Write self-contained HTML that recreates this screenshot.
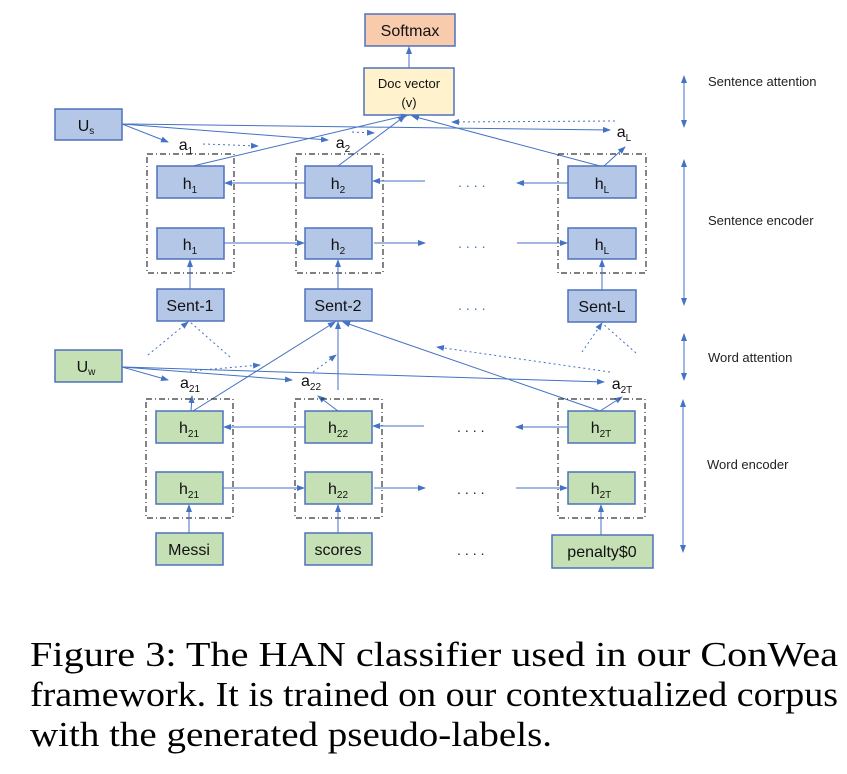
<!DOCTYPE html>
<html><head><meta charset="utf-8"><style>
body{margin:0;background:#fff}
svg{display:block}
.b{fill:#b4c7e7;stroke:#4f71be;stroke-width:1.5}
.g{fill:#c5e0b4;stroke:#4f71be;stroke-width:1.5}
.t{font-family:"Liberation Sans",sans-serif;font-size:16px;fill:#111;text-anchor:middle}
.s{font-size:10px}
.l{stroke:#4472c4;stroke-width:1;fill:none}
.d{stroke:#4472c4;stroke-width:1;fill:none;stroke-dasharray:2 3}
.db{fill:none;stroke:#333;stroke-width:1.2;stroke-dasharray:6 3 1 3}
.r{font-family:"Liberation Sans",sans-serif;font-size:13px;fill:#222}
.dot{font-family:"Liberation Sans",sans-serif;font-size:14px;fill:#4472c4;letter-spacing:4px}
.cap{font-family:"Liberation Serif","Times New Roman",serif;font-size:35px;fill:#000}
</style></head><body>
<svg width="847" height="774" viewBox="0 0 847 774">
<defs><marker id="a" markerWidth="8" markerHeight="8" refX="7" refY="4" orient="auto" markerUnits="userSpaceOnUse"><path d="M0,1 L8,4 L0,7z" fill="#4472c4"/></marker></defs>
<rect x="365" y="14" width="90" height="32" fill="#f8cbad" stroke="#4f71be" stroke-width="1.5"/>
<text class="t" x="410" y="36">Softmax</text>
<rect x="364" y="68" width="90" height="47" fill="#fff2cc" stroke="#4f71be" stroke-width="1.5"/>
<text class="t" x="409" y="88" style="font-size:13px">Doc vector</text>
<text class="t" x="409" y="107" style="font-size:13px">(v)</text>
<line class="l" x1="409" y1="68" x2="409" y2="47" marker-end="url(#a)"/>
<rect class="b" x="55" y="109" width="67" height="31"/>
<text class="t" x="86" y="131">U<tspan class="s" dy="3">s</tspan></text>
<line class="l" x1="122" y1="124" x2="168" y2="142" marker-end="url(#a)"/>
<line class="l" x1="122" y1="124" x2="328" y2="140" marker-end="url(#a)"/>
<line class="l" x1="122" y1="124" x2="610" y2="130" marker-end="url(#a)"/>
<text class="t" x="186" y="150">a<tspan class="s" dy="4">1</tspan></text>
<text class="t" x="343" y="148">a<tspan class="s" dy="4">2</tspan></text>
<text class="t" x="624" y="137">a<tspan class="s" dy="4">L</tspan></text>
<line class="d" x1="203" y1="144" x2="258" y2="146" marker-end="url(#a)"/>
<line class="d" x1="352" y1="132" x2="374" y2="133" marker-end="url(#a)"/>
<line class="d" x1="615" y1="121" x2="452" y2="122" marker-end="url(#a)"/>
<line class="l" x1="193" y1="166" x2="408" y2="115" marker-end="url(#a)"/>
<line class="l" x1="338" y1="166" x2="405" y2="116" marker-end="url(#a)"/>
<line class="l" x1="600" y1="166" x2="412" y2="116" marker-end="url(#a)"/>
<line class="l" x1="604" y1="166" x2="625" y2="147" marker-end="url(#a)"/>
<rect class="db" x="147" y="154" width="87" height="119"/>
<rect class="db" x="296" y="154" width="87" height="119"/>
<rect class="db" x="558" y="154" width="88" height="119"/>
<rect class="b" x="157" y="166" width="67" height="32"/><text class="t" x="190" y="189">h<tspan class="s" dy="4">1</tspan></text>
<rect class="b" x="157" y="228" width="67" height="31"/><text class="t" x="190" y="250">h<tspan class="s" dy="4">1</tspan></text>
<rect class="b" x="305" y="166" width="67" height="32"/><text class="t" x="338" y="189">h<tspan class="s" dy="4">2</tspan></text>
<rect class="b" x="305" y="228" width="67" height="31"/><text class="t" x="338" y="250">h<tspan class="s" dy="4">2</tspan></text>
<rect class="b" x="568" y="166" width="68" height="32"/><text class="t" x="602" y="189">h<tspan class="s" dy="4">L</tspan></text>
<rect class="b" x="568" y="228" width="68" height="31"/><text class="t" x="602" y="250">h<tspan class="s" dy="4">L</tspan></text>
<line class="l" x1="305" y1="183" x2="225" y2="183" marker-end="url(#a)"/>
<line class="l" x1="425" y1="181" x2="373" y2="181" marker-end="url(#a)"/>
<line class="l" x1="568" y1="183" x2="517" y2="183" marker-end="url(#a)"/>
<line class="l" x1="224" y1="243" x2="304" y2="243" marker-end="url(#a)"/>
<line class="l" x1="374" y1="243" x2="425" y2="243" marker-end="url(#a)"/>
<line class="l" x1="517" y1="243" x2="567" y2="243" marker-end="url(#a)"/>
<text class="dot" x="458" y="187">....</text>
<text class="dot" x="458" y="248">....</text>
<text class="dot" x="458" y="310">....</text>
<rect class="b" x="157" y="289" width="67" height="32"/><text class="t" x="190" y="311">Sent-1</text>
<rect class="b" x="305" y="289" width="67" height="32"/><text class="t" x="338" y="311">Sent-2</text>
<rect class="b" x="568" y="290" width="68" height="32"/><text class="t" x="602" y="312">Sent-L</text>
<line class="l" x1="190" y1="289" x2="190" y2="260" marker-end="url(#a)"/>
<line class="l" x1="338" y1="289" x2="338" y2="260" marker-end="url(#a)"/>
<line class="l" x1="602" y1="290" x2="602" y2="260" marker-end="url(#a)"/>
<line class="d" x1="148" y1="355" x2="188" y2="322" marker-end="url(#a)"/>
<line class="d" x1="230" y1="357" x2="190" y2="322"/>
<line class="d" x1="582" y1="352" x2="602" y2="323" marker-end="url(#a)"/>
<line class="d" x1="636" y1="353" x2="602" y2="323"/>
<rect class="g" x="55" y="350" width="67" height="32"/>
<text class="t" x="86" y="372">U<tspan class="s" dy="3">w</tspan></text>
<line class="l" x1="122" y1="367" x2="168" y2="380" marker-end="url(#a)"/>
<line class="l" x1="122" y1="367" x2="292" y2="380" marker-end="url(#a)"/>
<line class="l" x1="122" y1="367" x2="604" y2="382" marker-end="url(#a)"/>
<text class="t" x="190" y="388">a<tspan class="s" dy="4">21</tspan></text>
<text class="t" x="311" y="386">a<tspan class="s" dy="4">22</tspan></text>
<text class="t" x="622" y="389">a<tspan class="s" dy="4">2T</tspan></text>
<line class="d" x1="190" y1="371" x2="260" y2="365" marker-end="url(#a)"/>
<line class="d" x1="313" y1="372" x2="336" y2="355" marker-end="url(#a)"/>
<line class="d" x1="610" y1="372" x2="437" y2="347" marker-end="url(#a)"/>
<line class="l" x1="193" y1="411" x2="335" y2="322" marker-end="url(#a)"/>
<line class="l" x1="338" y1="390" x2="338" y2="322" marker-end="url(#a)"/>
<line class="l" x1="600" y1="411" x2="343" y2="322" marker-end="url(#a)"/>
<line class="l" x1="191" y1="411" x2="192" y2="396" marker-end="url(#a)"/>
<line class="l" x1="338" y1="411" x2="318" y2="396" marker-end="url(#a)"/>
<line class="l" x1="600" y1="411" x2="622" y2="397" marker-end="url(#a)"/>
<rect class="db" x="146" y="399" width="87" height="119"/>
<rect class="db" x="295" y="399" width="87" height="119"/>
<rect class="db" x="558" y="399" width="87" height="119"/>
<rect class="g" x="156" y="411" width="67" height="32"/><text class="t" x="189" y="433">h<tspan class="s" dy="4">21</tspan></text>
<rect class="g" x="156" y="472" width="67" height="32"/><text class="t" x="189" y="494">h<tspan class="s" dy="4">21</tspan></text>
<rect class="g" x="305" y="411" width="67" height="32"/><text class="t" x="338" y="433">h<tspan class="s" dy="4">22</tspan></text>
<rect class="g" x="305" y="472" width="67" height="32"/><text class="t" x="338" y="494">h<tspan class="s" dy="4">22</tspan></text>
<rect class="g" x="568" y="411" width="67" height="32"/><text class="t" x="601" y="433">h<tspan class="s" dy="4">2T</tspan></text>
<rect class="g" x="568" y="472" width="67" height="32"/><text class="t" x="601" y="494">h<tspan class="s" dy="4">2T</tspan></text>
<line class="l" x1="305" y1="427" x2="224" y2="427" marker-end="url(#a)"/>
<line class="l" x1="424" y1="426" x2="373" y2="426" marker-end="url(#a)"/>
<line class="l" x1="568" y1="427" x2="516" y2="427" marker-end="url(#a)"/>
<line class="l" x1="223" y1="488" x2="304" y2="488" marker-end="url(#a)"/>
<line class="l" x1="374" y1="488" x2="425" y2="488" marker-end="url(#a)"/>
<line class="l" x1="516" y1="488" x2="567" y2="488" marker-end="url(#a)"/>
<text class="dot" x="457" y="432" style="fill:#222">....</text>
<text class="dot" x="457" y="494" style="fill:#222">....</text>
<text class="dot" x="457" y="555" style="fill:#222">....</text>
<rect class="g" x="156" y="533" width="67" height="32"/><text class="t" x="189" y="555">Messi</text>
<rect class="g" x="305" y="533" width="67" height="32"/><text class="t" x="338" y="555">scores</text>
<rect class="g" x="552" y="535" width="101" height="33"/><text class="t" x="602" y="557">penalty$0</text>
<line class="l" x1="189" y1="533" x2="189" y2="505" marker-end="url(#a)"/>
<line class="l" x1="338" y1="533" x2="338" y2="505" marker-end="url(#a)"/>
<line class="l" x1="601" y1="535" x2="601" y2="505" marker-end="url(#a)"/>
<line class="l" x1="684" y1="101" x2="684" y2="76" marker-end="url(#a)"/>
<line class="l" x1="684" y1="101" x2="684" y2="127" marker-end="url(#a)"/>
<line class="l" x1="684" y1="230" x2="684" y2="160" marker-end="url(#a)"/>
<line class="l" x1="684" y1="230" x2="684" y2="305" marker-end="url(#a)"/>
<line class="l" x1="684" y1="357" x2="684" y2="334" marker-end="url(#a)"/>
<line class="l" x1="684" y1="357" x2="684" y2="380" marker-end="url(#a)"/>
<line class="l" x1="683" y1="475" x2="683" y2="400" marker-end="url(#a)"/>
<line class="l" x1="683" y1="475" x2="683" y2="552" marker-end="url(#a)"/>
<text class="r" x="708" y="86">Sentence attention</text>
<text class="r" x="708" y="225">Sentence encoder</text>
<text class="r" x="708" y="362">Word attention</text>
<text class="r" x="707" y="469">Word encoder</text>
<text class="cap" x="30" y="666" textLength="808" lengthAdjust="spacingAndGlyphs">Figure 3:  The HAN classifier used in our ConWea</text>
<text class="cap" x="30" y="706" textLength="808" lengthAdjust="spacingAndGlyphs">framework. It is trained on our contextualized corpus</text>
<text class="cap" x="30" y="746" textLength="522" lengthAdjust="spacingAndGlyphs">with the generated pseudo-labels.</text>
</svg>
</body></html>
